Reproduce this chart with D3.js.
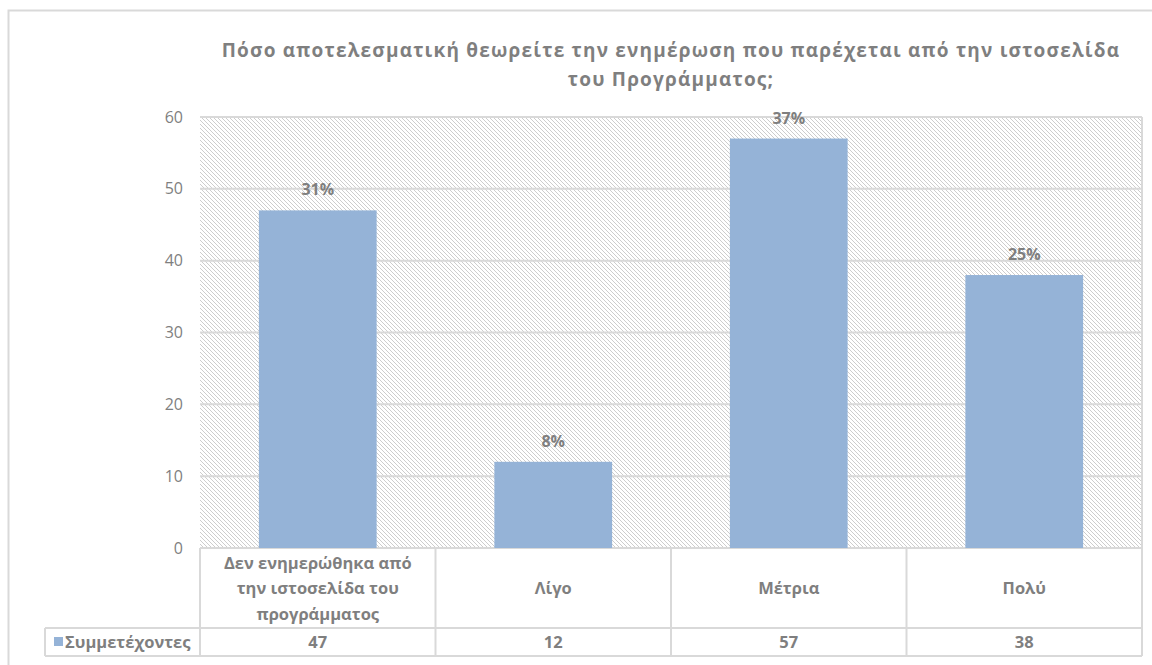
<!DOCTYPE html>
<html>
<head>
<meta charset="utf-8">
<script src="https://cdn.jsdelivr.net/npm/d3@7"></script>
<style>
  body { margin: 0; background: #fff; }
  svg { display: block; font-family: "Open Sans", "Noto Sans", sans-serif; }
</style>
</head>
<body>
<svg id="chart" width="1152" height="665"></svg>
<script>
// data
var categories = ["Δεν ενημερώθηκα από την ιστοσελίδα του προγράμματος", "Λίγο", "Μέτρια", "Πολύ"];
var catLines = [["Δεν ενημερώθηκα από", "την ιστοσελίδα του", "προγράμματος"], ["Λίγο"], ["Μέτρια"], ["Πολύ"]];
var values = [47, 12, 57, 38];
var pctLabels = ["31%", "8%", "37%", "25%"];
var yTicks = [0, 10, 20, 30, 40, 50, 60];
var seriesName = "Συμμετέχοντες";
var titleLines = ["Πόσο αποτελεσματική θεωρείτε την ενημέρωση που παρέχεται από την ιστοσελίδα", "του Προγράμματος;"];

var svg = d3.select("#chart");
var gray = "#7f7f7f";
var border = "#d9d9d9";

// plot area box (note: "top" is taken by window.top, so use plotTop)
var plotLeft = 200, plotRight = 1142, plotTop = 117, plotBottom = 548;
var rowCat = 628, rowVal = 656, legendLeft = 45;

// outer chart border
svg.append("rect").attr("x", 8.5).attr("y", 10.5).attr("width", 1160).attr("height", 680)
    .attr("fill", "none").attr("stroke", border).attr("stroke-width", 2);

// hatch pattern for the plot area
var defs = svg.append("defs");
var pat = defs.append("pattern").attr("id", "hatch").attr("patternUnits", "userSpaceOnUse")
    .attr("width", 4).attr("height", 4);
pat.append("rect").attr("width", 4).attr("height", 4).attr("fill", "#fff");
pat.append("path").attr("d", "M-1,-1 L5,5 M-1,3 L1,5 M3,-1 L5,1")
    .attr("stroke", "#cdcdcd").attr("stroke-width", 1);

var x = d3.scaleBand().domain(categories).range([plotLeft, plotRight]).paddingInner(0).paddingOuter(0);
var y = d3.scaleLinear().domain([0, 60]).range([plotBottom, plotTop]);

svg.append("rect").attr("x", plotLeft).attr("y", plotTop)
    .attr("width", plotRight - plotLeft).attr("height", plotBottom - plotTop)
    .attr("fill", "url(#hatch)");

// gridlines
svg.append("g").selectAll("line").data(yTicks).join("line")
    .attr("x1", plotLeft).attr("x2", plotRight)
    .attr("y1", d => y(d)).attr("y2", d => y(d))
    .attr("stroke", border).attr("stroke-width", 2);
svg.append("line").attr("x1", plotRight).attr("x2", plotRight).attr("y1", plotTop).attr("y2", plotBottom)
    .attr("stroke", border).attr("stroke-width", 2);

// y axis labels
var yAxis = d3.axisLeft(y).tickValues(yTicks).tickSize(0).tickPadding(17);
var yg = svg.append("g").attr("transform", "translate(" + plotLeft + ",0)").call(yAxis);
yg.select(".domain").remove();
yg.selectAll("text").attr("fill", gray).attr("font-size", 16).attr("font-family", "Open Sans, sans-serif");

// bars
var barW = x.bandwidth() * 0.5;
svg.append("g").selectAll("rect").data(values).join("rect")
    .attr("x", (d, i) => x(categories[i]) + (x.bandwidth() - barW) / 2)
    .attr("y", d => y(d))
    .attr("width", barW)
    .attr("height", d => y(0) - y(d))
    .attr("fill", "#95b3d7");

// percentage labels
svg.append("g").selectAll("text").data(values).join("text")
    .attr("x", (d, i) => x(categories[i]) + x.bandwidth() / 2)
    .attr("y", d => y(d) - 15)
    .attr("text-anchor", "middle")
    .attr("font-size", 16).attr("font-weight", "bold").attr("fill", gray)
    .text((d, i) => pctLabels[i]);

// data table
var tg = svg.append("g");
var edges = categories.map(c => x(c)).concat([plotRight]);
tg.selectAll("line.v").data(edges).join("line").attr("class", "v")
    .attr("x1", d => d).attr("x2", d => d).attr("y1", plotBottom).attr("y2", rowVal)
    .attr("stroke", border).attr("stroke-width", 2);
tg.append("line").attr("x1", legendLeft).attr("x2", plotRight).attr("y1", rowCat).attr("y2", rowCat)
    .attr("stroke", border).attr("stroke-width", 2);
tg.append("line").attr("x1", legendLeft).attr("x2", plotRight).attr("y1", rowVal).attr("y2", rowVal)
    .attr("stroke", border).attr("stroke-width", 2);
tg.append("line").attr("x1", legendLeft).attr("x2", legendLeft).attr("y1", rowCat).attr("y2", rowVal)
    .attr("stroke", border).attr("stroke-width", 2);

// category labels
var catG = tg.selectAll("text.cat").data(catLines).join("text").attr("class", "cat")
    .attr("text-anchor", "middle").attr("font-size", 16.5).attr("font-weight", "bold").attr("fill", gray)
    .attr("transform", (d, i) => "translate(" + (x(categories[i]) + x.bandwidth() / 2) + "," +
        ((plotBottom + rowCat) / 2 - (d.length - 1) * 12.75 + 6) + ")");
catG.selectAll("tspan").data(d => d).join("tspan")
    .attr("x", 0).attr("dy", (d, i) => i === 0 ? 0 : 25.5).text(d => d);

// value row
tg.selectAll("text.val").data(values).join("text").attr("class", "val")
    .attr("x", (d, i) => x(categories[i]) + x.bandwidth() / 2)
    .attr("y", (rowCat + rowVal) / 2 + 6)
    .attr("text-anchor", "middle").attr("font-size", 16.5).attr("font-weight", "bold").attr("fill", gray)
    .text(d => d);

// legend key in table
tg.append("rect").attr("x", 54).attr("y", 637).attr("width", 9).attr("height", 9).attr("fill", "#95b3d7");
tg.append("text").attr("x", 65).attr("y", (rowCat + rowVal) / 2 + 6)
    .attr("font-size", 16.5).attr("font-weight", "bold").attr("fill", gray).text(seriesName);

// title
svg.append("g").selectAll("text").data(titleLines).join("text")
    .attr("x", 671).attr("y", (d, i) => 57 + i * 29)
    .attr("text-anchor", "middle").attr("font-size", 19).attr("font-weight", "bold").attr("fill", gray)
    .attr("letter-spacing", 1.2)
    .text(d => d);
</script>
</body>
</html>
